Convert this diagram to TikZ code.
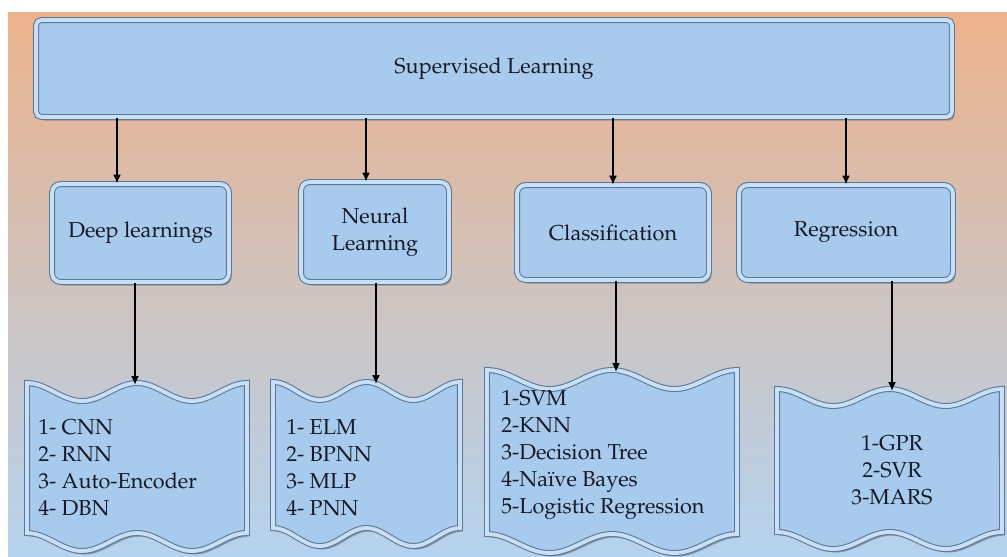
\documentclass[tikz,border=0pt]{standalone}
\usepackage[T1]{fontenc}
\usepackage{palatino}
\usepackage{tikz}
\usetikzlibrary{arrows.meta}
\usetikzlibrary{shadows}

\definecolor{bgtop}{RGB}{236,178,139}
\definecolor{bgbottom}{RGB}{180,211,239}
\definecolor{boxblue}{RGB}{167,202,237}
\definecolor{rimdark}{RGB}{92,120,150}
\definecolor{rimlight}{RGB}{200,223,246}
\definecolor{shadowc}{RGB}{70,80,95}
\definecolor{textc}{RGB}{22,26,40}

\tikzset{
	bevel/.style={fill=boxblue, draw=rimdark, line width=0.6pt, double=rimlight,
		double distance=2.2pt, drop shadow={shadow xshift=1.5pt, shadow yshift=-2pt,
		fill=shadowc, opacity=0.45}},
	txt/.style={font=\fontsize{12.3}{15.4}\selectfont, text=textc},
	arr/.style={-{Latex[length=5pt,width=4.5pt]}, line width=1pt, black},
}

% wavy sheet: x left, x right, y top, y bottom, wave depth (in px)
\newcommand{\wavedoc}[5]{%
	\draw[bevel] plot[domain=0:1, samples=41, smooth] ({#1+(#2-#1)*\x}, {#3+#5*(1-cos(720*\x))/2})
		-- plot[domain=1:0, samples=41, smooth] ({#1+(#2-#1)*\x}, {#4+#5*(1-cos(720*\x))/2}) -- cycle;
}

\begin{document}
\begin{tikzpicture}[x=0.02cm, y=-0.02cm]
		\useasboundingbox (0,0) rectangle (1007,556);
		\shade[top color=bgtop, bottom color=bgbottom] (8,12) rectangle (1007,556);

		% top banner
		\node[bevel, txt, rounded corners=3pt, minimum width=18.32cm, minimum height=1.94cm] (sup) at (494,68.5) {Supervised Learning};

		% second row
		\node[bevel, txt, rounded corners=5pt, minimum width=3.54cm, minimum height=1.96cm] (deep) at (140.5,233) {Deep learnings};
		\node[bevel, txt, rounded corners=5pt, align=center, minimum width=2.96cm, minimum height=2cm] (neural) at (375,232) {Neural\\Learning};
		\node[bevel, txt, rounded corners=5pt, minimum width=3.84cm, minimum height=1.9cm] (class) at (613,232.5) {Classification};
		\node[bevel, txt, rounded corners=5pt, minimum width=4.28cm, minimum height=1.9cm] (regr) at (846,232.5) {Regression};

		% wavy sheets
		\wavedoc{27}{247}{383}{533}{18}
		\wavedoc{273}{460}{382}{528}{18}
		\wavedoc{487}{737}{370}{534}{19}
		\wavedoc{777}{1002}{389}{532}{17}

		\node[txt, align=left, anchor=west, inner sep=0pt] (deeplist) at (38,468) {1- CNN\\2- RNN\\3- Auto-Encoder\\4- DBN};
		\node[txt, align=left, anchor=west, inner sep=0pt] (neurallist) at (286,468) {1- ELM\\2- BPNN\\3- MLP\\4- PNN};
		\node[txt, align=left, anchor=west, inner sep=0pt] (classlist) at (501,455) {1-SVM\\2-KNN\\3-Decision Tree\\4-Na\"{\i}ve Bayes\\5-Logistic Regression};
		\node[txt, align=center, inner sep=0pt] (regrlist) at (892,470) {1-GPR\\2-SVR\\3-MARS};

		\coordinate (deepin) at ([xshift=-0.47cm]deep.north);
		\coordinate (neuralin) at ([xshift=-0.18cm]neural.north);
		\coordinate (deeptop) at (135,385);
		\coordinate (neuraltop) at (376,384);
		\coordinate (classtop) at (616,372);
		\coordinate (regrtop) at (892,391);

		% arrows
		\draw[arr] (sup.south -| deepin) -- (deepin);
		\draw[arr] (sup.south -| neuralin) -- (neuralin);
		\draw[arr, line width=0.6pt] (sup.south -| class.north) -- (class.north);
		\draw[arr] (sup.south -| regr.north) -- (regr.north);
		\draw[arr] (deep.south -| deeptop) -- (deeptop);
		\draw[arr] (neural.south -| neuraltop) -- (neuraltop);
		\draw[arr] (class.south -| classtop) -- (classtop);
		\draw[arr] (regr.south -| regrtop) -- (regrtop);
	\end{tikzpicture}
\end{document}
